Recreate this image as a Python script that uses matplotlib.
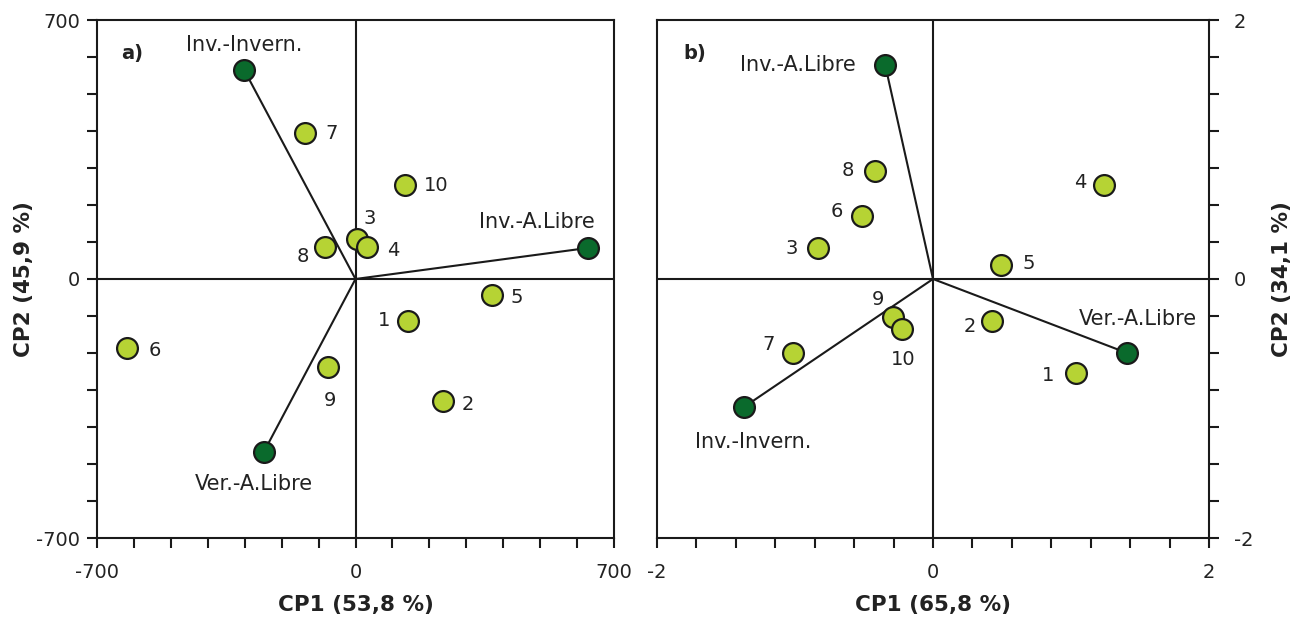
import numpy as np
import matplotlib
matplotlib.use("Agg")
import matplotlib.pyplot as plt

# panel a) - sites (light) and vectors (dark)
a_ids = ["1", "2", "3", "4", "5", "6", "7", "8", "9", "10"]
a_x = [142, 236, 4, 32, 370, -620, -136, -83, -74, 133]
a_y = [-113, -331, 108, 87, -42, -186, 394, 87, -237, 253]
a_vec_names = ["Inv.-Invern.", "Inv.-A.Libre", "Ver.-A.Libre"]
a_vec_x = [-302, 630, -248]
a_vec_y = [566, 84, -467]

# panel b)
b_ids = ["1", "2", "3", "4", "5", "6", "7", "8", "9", "10"]
b_x = [1.035, 0.431, -0.830, 1.240, 0.492, -0.513, -1.011, -0.419, -0.287, -0.226]
b_y = [-0.723, -0.326, 0.238, 0.723, 0.107, 0.488, -0.570, 0.835, -0.296, -0.387]
b_vec_names = ["Inv.-A.Libre", "Inv.-Invern.", "Ver.-A.Libre"]
b_vec_x = [-0.347, -1.373, 1.403]
b_vec_y = [1.655, -0.991, -0.570]

# label offsets in points (dx, dy) and alignment
a_id_off = [(-17, 0), (18, -2), (9, 15), (19, -3), (18, -2), (20, -2), (19, 0), (-16, -7), (1, -24), (23, 0)]
a_vec_off = [(0, 18), (-37, 19), (-7, -23)]
a_vec_ha = ["center", "center", "center"]
b_id_off = [(-20, -2), (-16, -4), (-19, 0), (-17, 2), (20, 1), (-18, 3), (-18, 6), (-20, 0), (-11, 13), (1, -22)]
b_vec_off = [(-21, 0), (7, -25), (8, 24)]
b_vec_ha = ["right", "center", "center"]

LIGHT = "#b6d334"
DARK = "#0a6a2c"
EDGE = "#1a1a1a"
TXT = "#222222"
FS = 14


def draw_panel(ax, xs, ys, ids, id_off, vx, vy, vnames, v_off, v_ha, lim, tag):
    ax.set_xlim(-lim, lim)
    ax.set_ylim(-lim, lim)
    ax.axhline(0, color=EDGE, lw=1.5, zorder=1)
    ax.axvline(0, color=EDGE, lw=1.5, zorder=1)
    for x, y in zip(vx, vy):
        ax.plot([0, x], [0, y], color=EDGE, lw=1.5, zorder=2)
    ax.plot(vx, vy, "o", ms=15, mfc=DARK, mec=EDGE, mew=1.6, zorder=3)
    ax.plot(xs, ys, "o", ms=15, mfc=LIGHT, mec=EDGE, mew=1.6, zorder=3)
    for x, y, t, (dx, dy) in zip(xs, ys, ids, id_off):
        ax.annotate(t, (x, y), xytext=(dx, dy), textcoords="offset points",
                    ha="center", va="center", fontsize=FS, color=TXT)
    for x, y, t, (dx, dy), ha in zip(vx, vy, vnames, v_off, v_ha):
        ax.annotate(t, (x, y), xytext=(dx, dy), textcoords="offset points",
                    ha=ha, va="center", fontsize=15, color=TXT)
    ax.text(0.068, 0.936, tag, transform=ax.transAxes, fontsize=FS,
            fontweight="bold", ha="center", va="center", color=TXT)
    for s in ax.spines.values():
        s.set_linewidth(1.5)
        s.set_color(EDGE)
    ax.tick_params(direction="out", length=7, width=1.5, color=EDGE,
                   labelsize=FS, labelcolor=TXT)
    ax.tick_params(axis="x", pad=11)


fig = plt.figure(figsize=(12.93, 6.21), dpi=100)
ax1 = fig.add_axes([97 / 1293, 1 - 538 / 621, 517 / 1293, 518 / 621])
ax2 = fig.add_axes([657 / 1293, 1 - 538 / 621, 552 / 1293, 518 / 621])

draw_panel(ax1, a_x, a_y, a_ids, a_id_off, a_vec_x, a_vec_y, a_vec_names,
           a_vec_off, a_vec_ha, 700, "a)")
ticks1 = np.arange(-700, 701, 100)
ax1.set_xticks(ticks1)
ax1.set_yticks(ticks1)
ax1.set_xticklabels([str(t) if t in (-700, 0, 700) else "" for t in ticks1])
ax1.set_yticklabels([str(t) if t in (-700, 0, 700) else "" for t in ticks1])
ax1.tick_params(axis="y", pad=5)
ax1.set_xlabel("CP1 (53,8 %)", fontsize=15.5, fontweight="bold", labelpad=9, color=TXT)
ax1.set_ylabel("CP2 (45,9 %)", fontsize=15.5, fontweight="bold", labelpad=2, color=TXT)

draw_panel(ax2, b_x, b_y, b_ids, b_id_off, b_vec_x, b_vec_y, b_vec_names,
           b_vec_off, b_vec_ha, 2, "b)")
ticks2 = np.linspace(-2, 2, 15)
ax2.set_xticks(ticks2)
ax2.set_yticks(ticks2)
lab2 = ["-2" if i == 0 else "0" if i == 7 else "2" if i == 14 else "" for i in range(15)]
ax2.set_xticklabels(lab2)
ax2.set_yticklabels(lab2)
ax2.yaxis.tick_right()
ax2.yaxis.set_label_position("right")
ax2.tick_params(axis="y", pad=11)
ax2.set_xlabel("CP1 (65,8 %)", fontsize=15.5, fontweight="bold", labelpad=9, color=TXT)
ax2.set_ylabel("CP2 (34,1 %)", fontsize=15.5, fontweight="bold", labelpad=13,
               rotation=90, color=TXT)

fig.savefig("out.png", dpi=100)
